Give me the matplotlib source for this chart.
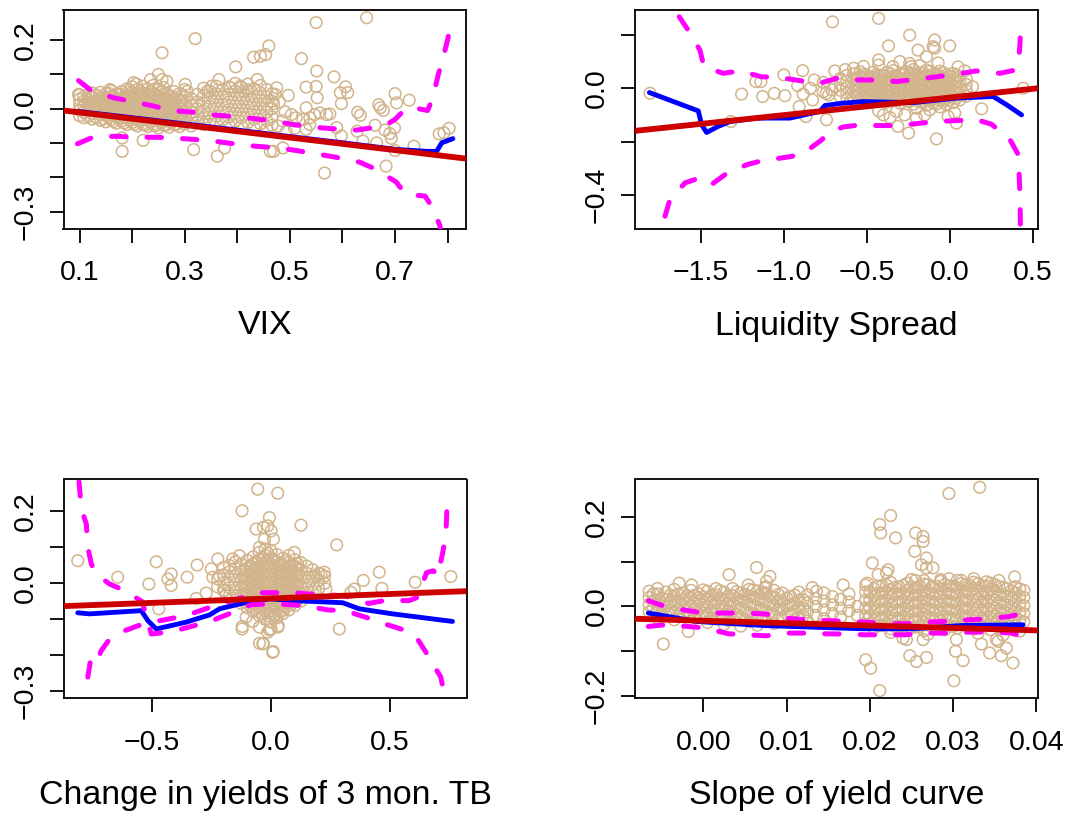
import matplotlib
matplotlib.use("Agg")
import matplotlib.pyplot as plt
import numpy as np

plt.rcParams['font.family'] = ['Liberation Sans', 'DejaVu Sans']
plt.rcParams['axes.unicode_minus'] = True

# ---------------- Panel 1: VIX ----------------
vix_out = [(0.320,0.204),(0.257,0.163),(0.397,0.122),(0.431,0.150),(0.444,0.153),(0.454,0.158),(0.460,0.183),
    (0.181,-0.124),(0.221,-0.092),(0.317,-0.119),(0.362,-0.138),(0.376,-0.114),(0.181,-0.085),(0.463,-0.124),
    (0.365,0.085),(0.250,0.100),(0.257,0.085),(0.266,0.080),(0.158,0.056),(0.098,0.042),(0.203,0.076),(0.208,0.072),
    (0.235,0.085),(0.301,0.071),(0.305,0.051),(0.343,0.051),(0.352,0.066),(0.387,0.061),(0.406,0.066),(0.419,0.056),
    (0.438,0.085),(0.522,0.146),(0.551,0.110),(0.584,0.093),(0.531,0.063),(0.550,0.065),(0.552,0.032),(0.596,0.047),
    (0.606,0.064),(0.610,0.047),(0.598,0.015),(0.497,0.039),(0.475,0.061),(0.472,0.042),(0.469,0.015),(0.531,0.003),
    (0.491,-0.009),(0.503,-0.017),(0.512,-0.026),(0.525,-0.031),(0.538,-0.026),(0.547,-0.017),(0.557,-0.012),
    (0.570,-0.017),(0.576,-0.015),(0.538,-0.046),(0.531,-0.060),(0.509,-0.057),(0.493,-0.067),(0.589,-0.055),
    (0.598,-0.079),(0.629,-0.010),(0.634,-0.019),(0.628,-0.065),(0.639,-0.094),(0.665,-0.099),(0.662,-0.048),
    (0.681,-0.062),(0.690,-0.072),(0.693,-0.086),(0.699,-0.056),(0.669,0.012),(0.678,-0.005),(0.672,0.003),
    (0.700,0.044),(0.703,0.017),(0.727,0.025),(0.683,-0.167),(0.566,-0.187),(0.469,-0.124),(0.487,-0.114),
    (0.736,-0.109),(0.700,-0.122),(0.784,-0.073),(0.793,-0.070),(0.803,-0.057),(0.550,0.251),(0.646,0.265),
    (0.480,0.020),(0.486,-0.035),(0.478,-0.050)]
vix_blob_x = [0.100,0.108,0.116,0.124,0.132,0.140,0.150,0.160,0.170,0.180,0.190,0.200,0.210,0.220,0.230,0.240,
    0.250,0.260,0.270,0.280,0.290,0.300,0.312,0.324,0.336,0.348,0.360,0.372,0.384,0.396,0.408,0.420,0.432,0.444,
    0.456,0.466]
vix_blob_y = [[-0.020,-0.004,0.012,0.028,0.040],[-0.026,-0.010,0.006,0.022,0.036],[-0.022,-0.006,0.010,0.026,0.042],
    [-0.030,-0.014,0.002,0.018,0.034,0.046],[-0.026,-0.008,0.008,0.024,0.040],[-0.034,-0.016,0.000,0.016,0.032,0.048],
    [-0.038,-0.020,-0.004,0.012,0.028,0.044],[-0.032,-0.014,0.004,0.020,0.036,0.052],[-0.042,-0.024,-0.006,0.010,0.026,0.042],
    [-0.036,-0.018,0.000,0.016,0.032,0.050],[-0.046,-0.028,-0.010,0.008,0.024,0.040,0.058],
    [-0.040,-0.022,-0.004,0.014,0.030,0.048,0.064],[-0.050,-0.032,-0.014,0.004,0.020,0.038,0.056],
    [-0.044,-0.026,-0.008,0.010,0.028,0.046,0.066],[-0.052,-0.034,-0.016,0.002,0.020,0.038,0.058],
    [-0.046,-0.028,-0.010,0.008,0.026,0.044,0.068],[-0.056,-0.036,-0.018,0.000,0.018,0.036,0.056],
    [-0.048,-0.030,-0.012,0.006,0.024,0.042,0.062],[-0.054,-0.036,-0.016,0.002,0.020,0.040],
    [-0.046,-0.028,-0.008,0.010,0.030,0.050],[-0.052,-0.032,-0.014,0.004,0.024,0.044],
    [-0.044,-0.024,-0.006,0.014,0.034,0.056],[-0.050,-0.030,-0.010,0.010,0.030],[-0.040,-0.020,0.000,0.020,0.042],
    [-0.046,-0.026,-0.006,0.016,0.038,0.060],[-0.036,-0.014,0.008,0.030,0.052],[-0.044,-0.022,0.000,0.022,0.044,0.066],
    [-0.032,-0.010,0.012,0.034,0.056],[-0.048,-0.024,-0.002,0.020,0.042,0.064],[-0.036,-0.014,0.008,0.030,0.052,0.074],
    [-0.050,-0.026,-0.004,0.018,0.040,0.062],[-0.040,-0.016,0.006,0.028,0.050,0.072],[-0.054,-0.030,-0.008,0.014,0.036,0.058],
    [-0.044,-0.020,0.002,0.024,0.046,0.068],[-0.060,-0.034,-0.010,0.012,0.034,0.056],[-0.048,-0.024,0.000,0.022,0.044]]
vix_fill_x = [0.145,0.155,0.165,0.175,0.185,0.195,0.205,0.215,0.225,0.235,0.245,0.255,0.265,0.275,0.285,0.295]
vix_fill_y = [[-0.029,-0.011,0.007,0.025],[-0.025,-0.007,0.011,0.029,0.045],[-0.037,-0.019,-0.001,0.017,0.035],
    [-0.029,-0.011,0.007,0.025,0.043],[-0.041,-0.023,-0.005,0.013,0.031],[-0.033,-0.015,0.003,0.021,0.039,0.055],
    [-0.045,-0.027,-0.009,0.009,0.027,0.045],[-0.037,-0.019,-0.001,0.017,0.035,0.051],
    [-0.047,-0.029,-0.011,0.007,0.025,0.043],[-0.039,-0.021,-0.003,0.015,0.033,0.051],
    [-0.049,-0.031,-0.013,0.005,0.023,0.041,0.059],[-0.041,-0.023,-0.005,0.013,0.031,0.049],
    [-0.047,-0.029,-0.011,0.007,0.025,0.045],[-0.039,-0.021,-0.003,0.015,0.035],[-0.045,-0.027,-0.009,0.009,0.029],
    [-0.037,-0.017,0.001,0.021,0.041]]
vix_fit_x = [0.099,0.2,0.3,0.4,0.5,0.6,0.7,0.760,0.779,0.789,0.810]
vix_fit_y = [-0.008,-0.026,-0.044,-0.062,-0.081,-0.099,-0.118,-0.124,-0.124,-0.099,-0.087]
vix_up_x = [0.098,0.124,0.165,0.197,0.241,0.273,0.317,0.349,0.393,0.428,0.471,0.506,0.548,0.579,0.627,0.658,0.685,
    0.700,0.722,0.745,0.762,0.772,0.782,0.790,0.801,0.805]
vix_up_y = [0.082,0.051,0.032,0.022,0.008,-0.005,-0.010,-0.017,-0.023,-0.028,-0.036,-0.046,-0.054,-0.058,-0.062,-0.055,
    -0.045,-0.031,0.003,0.000,-0.005,0.032,0.098,0.139,0.207,0.255]
vix_lo_x = [0.096,0.127,0.171,0.203,0.247,0.279,0.324,0.355,0.403,0.435,0.478,0.510,0.557,0.587,0.632,0.662,0.702,
    0.720,0.740,0.757,0.772,0.785,0.795]
vix_lo_y = [-0.102,-0.082,-0.080,-0.083,-0.083,-0.085,-0.090,-0.094,-0.104,-0.109,-0.114,-0.121,-0.133,-0.141,-0.155,
    -0.175,-0.213,-0.248,-0.252,-0.254,-0.289,-0.339,-0.40]
vix_ols = [0.0077, -0.183]

# ---------------- Panel 2: Liquidity spread ----------------
liq_out = [(-1.807,-0.019),(-1.319,-0.125),(-1.255,-0.022),(-1.169,0.025),(-1.139,0.025),(-1.128,-0.031),(-1.058,-0.019),
    (-0.994,-0.028),(-1.0,0.050),(-0.887,0.066),(-0.917,0.010),(-0.884,-0.022),(-0.908,-0.069),(-0.867,-0.106),
    (-0.827,-0.044),(-0.817,0.031),(-0.743,-0.118),(-0.707,0.249),(-0.693,0.065),(-0.84,0.0),(-0.763,-0.013),
    (-0.745,-0.019),(-0.73,-0.025),(-0.71,-0.006),(-0.69,0.006),(-0.763,0.022),(-0.429,0.262),(-0.242,0.199),
    (-0.369,0.159),(-0.091,0.181),(-0.091,0.150),(-0.10,0.156),(0.0,0.159),(-0.191,0.143),(-0.141,0.118),
    (-0.429,0.106),(-0.429,0.087),(-0.343,0.081),(-0.242,0.093),(-0.232,0.081),(-0.248,-0.168),(-0.080,-0.190),
    (0.192,-0.077),(0.137,0.006),(0.443,0.0),(0.040,-0.131),(-0.313,-0.143),(-0.201,-0.112),(-0.322,-0.087),
    (-0.272,-0.100),(-0.201,-0.075),(-0.151,-0.100),(-0.121,-0.081),(-0.010,-0.106),(0.030,-0.093),(-0.429,-0.085),
    (-0.40,-0.10),(-0.36,-0.11),(-0.63,0.07),(-0.58,0.075),(-0.52,0.082),(-0.30,0.10),(-0.18,0.085),(-0.07,0.095),
    (0.05,0.08),(0.09,0.065)]
liq_blob_x = [-0.66,-0.62,-0.58,-0.54,-0.50,-0.46,-0.42,-0.38,-0.34,-0.30,-0.26,-0.22,-0.18,-0.14,-0.10,-0.06,-0.02,
    0.02,0.06,0.10]
liq_blob_y = [[-0.030,-0.008,0.014,0.036],[-0.040,-0.018,0.004,0.026,0.048],[-0.034,-0.012,0.010,0.032,0.054],
    [-0.044,-0.022,0.000,0.022,0.044,0.062],[-0.038,-0.016,0.006,0.028,0.050],[-0.048,-0.026,-0.004,0.018,0.040,0.060],
    [-0.040,-0.018,0.004,0.026,0.048],[-0.052,-0.030,-0.008,0.014,0.036,0.058],[-0.044,-0.022,0.000,0.022,0.044,0.066],
    [-0.056,-0.034,-0.012,0.010,0.032,0.054],[-0.048,-0.026,-0.004,0.018,0.040,0.062],
    [-0.060,-0.038,-0.016,0.006,0.028,0.050,0.070],[-0.052,-0.030,-0.008,0.014,0.036,0.058],
    [-0.064,-0.042,-0.020,0.002,0.024,0.046,0.068],[-0.056,-0.034,-0.012,0.010,0.032,0.054],
    [-0.070,-0.046,-0.024,-0.002,0.020,0.042,0.064],[-0.060,-0.038,-0.016,0.006,0.028,0.050],
    [-0.054,-0.032,-0.010,0.012,0.034,0.056],[-0.044,-0.022,0.000,0.022,0.044],[-0.030,-0.008,0.014,0.036]]
liq_fill_x = [-0.56,-0.52,-0.48,-0.44,-0.40,-0.36,-0.32,-0.28,-0.24,-0.20,-0.16,-0.12,-0.08,-0.04,0.00,0.04]
liq_fill_y = [[-0.027,-0.005,0.017,0.039],[-0.033,-0.011,0.011,0.033,0.053],[-0.027,-0.005,0.017,0.039],
    [-0.035,-0.013,0.009,0.031,0.051],[-0.041,-0.019,0.003,0.025,0.047],[-0.033,-0.011,0.011,0.033,0.055],
    [-0.045,-0.023,-0.001,0.021,0.043],[-0.037,-0.015,0.007,0.029,0.051],[-0.049,-0.027,-0.005,0.017,0.039,0.059],
    [-0.041,-0.019,0.003,0.025,0.047],[-0.053,-0.031,-0.009,0.013,0.035,0.057],[-0.045,-0.023,-0.001,0.021,0.043,0.063],
    [-0.059,-0.035,-0.013,0.009,0.031,0.053],[-0.049,-0.027,-0.005,0.017,0.039,0.059],[-0.043,-0.021,0.001,0.023,0.045],
    [-0.037,-0.015,0.007,0.029,0.049]]
liq_fit_x = [-1.811,-1.516,-1.496,-1.466,-1.396,-1.325,-1.164,-0.964,-0.783,-0.753,-0.66,-0.524,-0.222,0.04,0.262,0.343,0.433]
liq_fit_y = [-0.016,-0.085,-0.137,-0.166,-0.143,-0.125,-0.112,-0.112,-0.087,-0.065,-0.057,-0.050,-0.054,-0.037,-0.031,-0.062,-0.100]
liq_up_x = [-1.631,-1.577,-1.506,-1.482,-1.366,-1.265,-1.134,-1.024,-0.887,-0.783,-0.665,-0.564,-0.423,-0.322,-0.181,
    -0.080,0.071,0.161,0.302,0.393,0.415,0.423,0.427]
liq_up_y = [0.268,0.218,0.143,0.081,0.056,0.065,0.043,0.040,0.027,0.019,0.040,0.031,0.031,0.025,0.035,0.043,0.056,0.065,
    0.056,0.068,0.10,0.162,0.224]
liq_lo_x = [-1.717,-1.687,-1.596,-1.506,-1.436,-1.355,-1.225,-1.134,-0.988,-0.893,-0.779,-0.713,-0.64,-0.574,-0.473,
    -0.333,-0.232,-0.085,0.016,0.161,0.252,0.363,0.413,0.419,0.423,0.427]
liq_lo_y = [-0.480,-0.418,-0.355,-0.336,-0.361,-0.324,-0.287,-0.272,-0.259,-0.249,-0.197,-0.160,-0.145,-0.140,-0.140,
    -0.140,-0.135,-0.125,-0.122,-0.118,-0.135,-0.193,-0.249,-0.336,-0.399,-0.55]
liq_ols = [-0.035, 0.0658]

# ---------------- Panel 3: change in 3-month T-bill yields ----------------
tb_out = [(-0.813,0.063),(-0.645,0.017),(-0.483,0.060),(-0.514,-0.002),(-0.434,0.012),(-0.42,0.026),(-0.42,-0.006),
    (-0.353,0.017),(-0.311,0.051),(-0.273,-0.027),(-0.315,-0.042),(-0.472,-0.071),(-0.122,-0.127),(-0.077,-0.106),
    (-0.056,0.262),(-0.122,0.202),(-0.063,0.151),(-0.032,0.156),(-0.028,0.123),(-0.049,0.100),(-0.032,-0.168),
    (0.028,0.251),(0.126,0.162),(-0.007,0.183),(-0.014,0.160),(0.0,0.146),(0.010,0.123),(0.276,0.107),(0.455,0.031),
    (0.606,0.003),(0.756,0.019),(0.388,0.008),(0.466,-0.014),(0.35,-0.016),(0.336,-0.025),(0.287,-0.127),(0.224,0.031),
    (0.210,0.026),(0.189,0.021),(0.231,-0.016),(0.007,-0.192),(-0.035,-0.168),(0.028,-0.122),(0.0,-0.127),
    (-0.014,-0.136),(0.049,-0.076),(0.098,0.086),(0.112,0.054),(0.077,0.049),(-0.252,0.040),(-0.224,0.068),
    (-0.245,0.017),(-0.217,0.021),(-0.196,-0.020),(-0.161,0.068),(-0.133,0.077),(-0.189,-0.034),(-0.105,-0.094),
    (-0.049,-0.122),(-0.121,-0.120),(-0.049,-0.167),(0.009,-0.190),(-0.006,-0.130),(0.030,-0.118)]
tb_blob_x = [-0.225,-0.200,-0.175,-0.150,-0.125,-0.100,-0.075,-0.050,-0.025,0.000,0.025,0.050,0.075,0.100,0.125,
    0.150,0.175,0.200,0.225]
tb_blob_y = [[-0.010,0.012],[-0.020,0.002,0.024,0.044],[-0.034,-0.012,0.010,0.032,0.050],
    [-0.046,-0.024,-0.002,0.020,0.042,0.060],[-0.056,-0.034,-0.012,0.010,0.032,0.054],
    [-0.068,-0.046,-0.024,-0.002,0.020,0.042,0.064],[-0.078,-0.056,-0.034,-0.012,0.010,0.032,0.054,0.074],
    [-0.090,-0.066,-0.044,-0.022,0.000,0.022,0.044,0.066,0.086],
    [-0.100,-0.076,-0.054,-0.032,-0.010,0.012,0.034,0.056,0.078,0.096],
    [-0.108,-0.086,-0.062,-0.040,-0.018,0.004,0.026,0.048,0.070,0.090],
    [-0.096,-0.072,-0.050,-0.028,-0.006,0.016,0.038,0.060,0.080],
    [-0.084,-0.062,-0.040,-0.018,0.004,0.026,0.048,0.070],[-0.074,-0.052,-0.030,-0.008,0.014,0.036,0.058,0.078],
    [-0.062,-0.040,-0.018,0.004,0.026,0.048,0.066],[-0.050,-0.028,-0.006,0.016,0.038,0.058],
    [-0.038,-0.016,0.006,0.028,0.048],[-0.026,-0.004,0.018,0.038],[-0.014,0.008,0.028],[0.000,0.020]]
tb_fill_x = [-0.1125,-0.0875,-0.0625,-0.0375,-0.0125,0.0125,0.0375,0.0625,0.0875,0.1125]
tb_fill_y = [[-0.051,-0.029,-0.007,0.015,0.037],[-0.061,-0.039,-0.017,0.005,0.027,0.049],
    [-0.071,-0.049,-0.027,-0.005,0.017,0.039,0.061],[-0.083,-0.061,-0.039,-0.017,0.005,0.027,0.049,0.071],
    [-0.091,-0.069,-0.047,-0.025,-0.003,0.019,0.041,0.063,0.083],[-0.089,-0.067,-0.045,-0.023,-0.001,0.021,0.043,0.065],
    [-0.079,-0.057,-0.035,-0.013,0.009,0.031,0.053],[-0.067,-0.045,-0.023,-0.001,0.021,0.043,0.063],
    [-0.057,-0.035,-0.013,0.009,0.031,0.053],[-0.045,-0.023,-0.001,0.021,0.041]]
tb_fit_x = [-0.813,-0.763,-0.546,-0.518,-0.483,-0.357,-0.259,-0.217,-0.105,-0.007,0.091,0.301,0.371,0.511,0.763]
tb_fit_y = [-0.082,-0.085,-0.076,-0.104,-0.127,-0.108,-0.088,-0.071,-0.053,-0.043,-0.048,-0.054,-0.071,-0.085,-0.106]
tb_a_x = [-0.808,-0.798,-0.777,-0.771,-0.756,-0.735,-0.679,-0.616,-0.542,-0.504,-0.42,-0.364,-0.257,-0.207,-0.085,
    -0.006,0.095,0.145,0.238,0.31,0.41,0.468,0.561,0.611,0.665,0.693,0.714,0.728,0.735]
tb_a_y = [0.283,0.207,0.165,0.100,0.054,0.025,-0.002,-0.020,-0.051,-0.141,-0.135,-0.125,-0.106,-0.093,-0.060,-0.057,
    -0.060,-0.063,-0.074,-0.076,-0.097,-0.111,-0.130,-0.150,-0.206,-0.238,-0.261,-0.307,-0.33]
tb_b_x = [-0.771,-0.761,-0.742,-0.714,-0.679,-0.624,-0.56,-0.50,-0.413,-0.350,-0.245,-0.189,-0.105,-0.035,0.049,0.084,
    0.140,0.245,0.31,0.41,0.476,0.581,0.616,0.654,0.683,0.700,0.721,0.735,0.742]
tb_b_y = [-0.261,-0.221,-0.233,-0.187,-0.155,-0.134,-0.118,-0.108,-0.097,-0.088,-0.064,-0.053,-0.036,-0.026,-0.026,
    -0.025,-0.029,-0.032,-0.035,-0.056,-0.048,-0.048,-0.039,0.030,0.035,0.020,0.082,0.133,0.245]
tb_ols = [-0.042, 0.0246]

# ---------------- Panel 4: slope of yield curve ----------------
slp_out = [(0.0295,0.252),(0.0332,0.266),(0.0225,0.203),(0.0212,0.183),(0.0213,0.164),(0.0231,0.153),(0.0255,0.164),
    (0.0264,0.156),(0.0264,0.145),(0.0254,0.123),(0.0268,0.108),(0.0262,0.093),(0.0268,0.086),(0.0276,0.086),
    (0.0203,0.097),(0.021,0.071),(0.022,0.075),(0.0222,0.082),(0.0168,0.048),(0.0197,0.052),(0.0374,0.066),
    (0.0195,-0.119),(0.0201,-0.138),(0.0212,-0.188),(0.0248,-0.110),(0.0256,-0.123),(0.0268,-0.114),(0.0301,-0.166),
    (0.0303,-0.100),(0.0312,-0.121),(0.0334,-0.084),(0.0344,-0.104),(0.0358,-0.110),(0.0364,-0.093),(0.0372,-0.126),
    (0.0352,-0.074),(0.0354,-0.078),(0.0304,-0.074),(0.024,-0.071),(0.0244,-0.074),(0.0264,-0.074),(0.0064,0.087),
    (0.0031,0.071),(-0.0048,-0.084),(-0.0018,-0.056),(0.008,0.067),(0.0076,0.056),(0.0074,0.041),(0.0131,0.042),
    (0.0136,0.034),(-0.0029,0.052),(-0.0014,0.048),(0.0054,0.048),(0.0285,0.060),(0.0295,0.062),(0.031,0.058),
    (0.0325,0.062),(0.034,0.055),(0.0355,0.058),(0.0265,0.058),(0.0225,-0.058),(0.027,-0.062),(0.029,-0.052),
    (0.033,-0.060),(0.036,-0.064),(0.038,-0.055)]
slp_blob_x = [-0.0065,-0.0055,-0.0045,-0.0035,-0.0025,-0.0015,-0.0005,0.0005,0.0015,0.0025,0.0035,0.0045,0.0055,
    0.0065,0.0075,0.0085,0.0095,0.0105,0.0115,0.0125,0.0135,0.0145,0.0155,0.0165,0.0175,0.0185,
    0.0195,0.0205,0.0215,0.0225,0.0235,0.0245,0.0255,0.0265,0.0275,0.0285,0.0295,0.0305,0.0315,0.0325,0.0335,
    0.0345,0.0355,0.0365,0.0375,0.0385]
slp_blob_y = [[-0.012,0.004,0.020,0.034],[-0.026,-0.008,0.010,0.028,0.040],[-0.018,0.000,0.016,0.032],
    [-0.030,-0.012,0.006,0.024,0.038],[-0.020,-0.002,0.014,0.030],[-0.034,-0.016,0.002,0.020,0.036],
    [-0.024,-0.006,0.012,0.028],[-0.036,-0.018,0.000,0.018,0.034],[-0.028,-0.010,0.008,0.026,0.040],
    [-0.040,-0.020,-0.002,0.016,0.032],[-0.030,-0.012,0.006,0.024,0.040],[-0.044,-0.024,-0.004,0.014,0.030],
    [-0.034,-0.014,0.004,0.022,0.038],[-0.042,-0.022,-0.002,0.016,0.034],[-0.030,-0.010,0.010,0.028,0.044],
    [-0.038,-0.018,0.002,0.020,0.036],[-0.026,-0.006,0.012,0.030],[-0.036,-0.016,0.004,0.022],
    [-0.024,-0.004,0.014,0.032],[-0.032,-0.012,0.008,0.026],[-0.020,0.000,0.018],[-0.028,-0.008,0.012,0.030],
    [-0.016,0.004,0.022],[-0.024,-0.004,0.016],[-0.010,0.010,0.028],[-0.020,0.000],
    [-0.040,-0.022,-0.004,0.014,0.032,0.048],[-0.048,-0.030,-0.012,0.006,0.024,0.040],
    [-0.042,-0.024,-0.006,0.012,0.030,0.046],[-0.050,-0.032,-0.014,0.004,0.022,0.038,0.054],
    [-0.044,-0.026,-0.008,0.010,0.028,0.044],[-0.052,-0.034,-0.016,0.002,0.020,0.036,0.052],
    [-0.046,-0.028,-0.010,0.008,0.026,0.042,0.058],[-0.054,-0.036,-0.018,0.000,0.018,0.034,0.050],
    [-0.044,-0.026,-0.008,0.010,0.028,0.044],[-0.050,-0.032,-0.014,0.004,0.022,0.040,0.056],
    [-0.042,-0.024,-0.006,0.012,0.030,0.046],[-0.048,-0.030,-0.012,0.006,0.024,0.042,0.058],
    [-0.040,-0.022,-0.004,0.014,0.032,0.048],[-0.050,-0.032,-0.014,0.004,0.022,0.040,0.054],
    [-0.044,-0.026,-0.008,0.010,0.028,0.046],[-0.052,-0.034,-0.016,0.002,0.020,0.038,0.052],
    [-0.046,-0.028,-0.010,0.008,0.026,0.044],[-0.050,-0.032,-0.014,0.004,0.022,0.040],
    [-0.042,-0.024,-0.006,0.012,0.030,0.044],[-0.034,-0.016,0.002,0.020,0.036]]
slp_fill_x = [-0.0060,-0.0050,-0.0040,-0.0030,-0.0020,-0.0010,0.0000,0.0010,0.0020,0.0030,0.0040,0.0050,0.0060,
    0.0070,0.0080,0.0090,0.0100,0.0110,0.0120,
    0.0200,0.0210,0.0220,0.0230,0.0240,0.0250,0.0260,0.0270,0.0280,0.0290,0.0300,0.0310,0.0320,0.0330,0.0340,
    0.0350,0.0360,0.0370,0.0380]
slp_fill_y = [[-0.004,0.012,0.028],[-0.017,0.001,0.019],[-0.009,0.009,0.025],[-0.021,-0.005,0.011,0.027],
    [-0.011,0.007,0.023],[-0.025,-0.007,0.009,0.025],[-0.015,0.003,0.021,0.037],[-0.027,-0.009,0.009,0.025],
    [-0.017,0.001,0.019,0.035],[-0.031,-0.011,0.007,0.023],[-0.019,-0.001,0.017,0.033],[-0.029,-0.009,0.011,0.027],
    [-0.017,0.003,0.021,0.037],[-0.025,-0.005,0.013,0.029],[-0.015,0.005,0.023],[-0.027,-0.007,0.011,0.027],
    [-0.017,0.001,0.019],[-0.011,0.007,0.025],[-0.021,-0.003,0.015],
    [-0.039,-0.021,-0.003,0.015,0.033],[-0.043,-0.025,-0.007,0.011,0.029,0.045],[-0.041,-0.023,-0.005,0.013,0.031,0.047],
    [-0.045,-0.027,-0.009,0.009,0.027,0.043],[-0.043,-0.025,-0.007,0.011,0.029,0.047],
    [-0.047,-0.029,-0.011,0.007,0.025,0.043,0.060],[-0.045,-0.027,-0.009,0.009,0.027,0.045],
    [-0.041,-0.023,-0.005,0.013,0.031,0.049],[-0.045,-0.027,-0.009,0.009,0.027,0.045],
    [-0.041,-0.023,-0.005,0.013,0.031,0.049],[-0.045,-0.027,-0.009,0.009,0.027,0.045],
    [-0.039,-0.021,-0.003,0.015,0.033,0.051],[-0.043,-0.025,-0.007,0.011,0.029,0.047],
    [-0.037,-0.019,-0.001,0.017,0.035,0.051],[-0.043,-0.025,-0.007,0.011,0.029,0.045],
    [-0.039,-0.021,-0.003,0.015,0.033,0.049],[-0.045,-0.027,-0.009,0.009,0.027,0.043],
    [-0.037,-0.019,-0.001,0.017,0.035],[-0.031,-0.013,0.005,0.023,0.039]]
slp_fit_x = [-0.0066,-0.0008,0.0072,0.0164,0.0192,0.0252,0.0312,0.0384]
slp_fit_y = [-0.0148,-0.0335,-0.0425,-0.0483,-0.0498,-0.0498,-0.0425,-0.0410]
slp_band_x = [-0.0066,-0.0046,-0.0018,0.0002,0.003,0.005,0.0076,0.0096,0.0124,0.0144,0.0174,0.0194,0.0222,0.0242,
    0.027,0.029,0.032,0.034,0.0368,0.0385]
slp_up_y = [0.0127,0.0,-0.0096,-0.0148,-0.0148,-0.0148,-0.017,-0.026,-0.0297,-0.0313,-0.0335,-0.0349,-0.0387,-0.0387,
    -0.0349,-0.0335,-0.0297,-0.0282,-0.0223,-0.0148]
slp_lo_y = [-0.0447,-0.0409,-0.0447,-0.0483,-0.061,-0.0633,-0.0655,-0.0595,-0.0595,-0.061,-0.0618,-0.0633,-0.0633,
    -0.0633,-0.0595,-0.0595,-0.0573,-0.0573,-0.0588,-0.0670]
slp_ols = [-0.0319, -0.539]

# ---------------- axis ticks / labels ----------------
vix_xticks = [0.1,0.2,0.3,0.4,0.5,0.6,0.7,0.8]
vix_xlabels = ['0.1','','0.3','','0.5','','0.7','']
vix_yticks = [0.2,0.1,0.0,-0.1,-0.2,-0.3]
vix_ylabels = ['0.2','','0.0','','','\u22120.3']
liq_xticks = [-1.5,-1.0,-0.5,0.0,0.5]
liq_xlabels = ['\u22121.5','\u22121.0','\u22120.5','0.0','0.5']
liq_yticks = [0.2,0.0,-0.2,-0.4]
liq_ylabels = ['','0.0','','\u22120.4']
tb_xticks = [-0.5,0.0,0.5]
tb_xlabels = ['\u22120.5','0.0','0.5']
tb_yticks = [0.2,0.1,0.0,-0.1,-0.2,-0.3]
tb_ylabels = ['0.2','','0.0','','','\u22120.3']
slp_xticks = [0.0,0.01,0.02,0.03,0.04]
slp_xlabels = ['0.00','0.01','0.02','0.03','0.04']
slp_yticks = [0.2,0.1,0.0,-0.1,-0.2]
slp_ylabels = ['0.2','','0.0','','\u22120.2']
titles = ['VIX','Liquidity Spread','Change in yields of 3 mon. TB','Slope of yield curve']

TAN = '#D2B48C'
BLUE = '#0000FF'
MAG = '#FF00FF'
RED = '#CD0000'

def cols_to_points(cx, cy):
    px, py = [], []
    for x, ys in zip(cx, cy):
        for y in ys:
            px.append(x); py.append(y)
    return px, py

W, H = 1069, 814
fig = plt.figure(figsize=(W/100, H/100), dpi=100)

def make_ax(l, t, r, b):
    return fig.add_axes([l/W, 1-b/H, (r-l)/W, (b-t)/H])

panels = [
    dict(box=(63.5,10,466,229), xlim=(0.0695,0.835), ylim=(-0.350,0.2875), out=vix_out,
         blobs=[(vix_blob_x,vix_blob_y),(vix_fill_x,vix_fill_y)],
         fit=(vix_fit_x,vix_fit_y), bands=[(vix_up_x,vix_up_y),(vix_lo_x,vix_lo_y)], ols=vix_ols,
         xt=(vix_xticks,vix_xlabels), yt=(vix_yticks,vix_ylabels), title=titles[0]),
    dict(box=(635,10,1038,229), xlim=(-1.8976,0.532), ylim=(-0.528,0.2935), out=liq_out,
         blobs=[(liq_blob_x,liq_blob_y),(liq_fill_x,liq_fill_y)],
         fit=(liq_fit_x,liq_fit_y), bands=[(liq_up_x,liq_up_y),(liq_lo_x,liq_lo_y)], ols=liq_ols,
         xt=(liq_xticks,liq_xlabels), yt=(liq_yticks,liq_ylabels), title=titles[1]),
    dict(box=(64,479.5,466.5,698.3), xlim=(-0.871,0.822), ylim=(-0.320,0.289), out=tb_out,
         blobs=[(tb_blob_x,tb_blob_y),(tb_fill_x,tb_fill_y)],
         fit=(tb_fit_x,tb_fit_y), bands=[(tb_a_x,tb_a_y),(tb_b_x,tb_b_y)], ols=tb_ols,
         xt=(tb_xticks,tb_xlabels), yt=(tb_yticks,tb_ylabels), title=titles[2]),
    dict(box=(635,479.5,1038,698.3), xlim=(-0.0082,0.0402), ylim=(-0.2051,0.2834), out=slp_out,
         blobs=[(slp_blob_x,slp_blob_y),(slp_fill_x,slp_fill_y)],
         fit=(slp_fit_x,slp_fit_y), bands=[(slp_band_x,slp_up_y),(slp_band_x,slp_lo_y)], ols=slp_ols,
         xt=(slp_xticks,slp_xlabels), yt=(slp_yticks,slp_ylabels), title=titles[3]),
]

for p in panels:
    l, t, r, b = p['box']
    ax = make_ax(l, t, r, b)
    px, py = [], []
    for cx, cy in p['blobs']:
        a, c = cols_to_points(cx, cy)
        px += a; py += c
    px += [q[0] for q in p['out']]
    py += [q[1] for q in p['out']]
    ax.scatter(px, py, s=70, facecolors='none', edgecolors=TAN, linewidths=1.1, zorder=1)
    ax.plot(p['fit'][0], p['fit'][1], color=BLUE, lw=3.5, solid_capstyle='round', solid_joinstyle='round', zorder=2)
    for bxs, bys in p['bands']:
        ax.plot(bxs, bys, color=MAG, lw=3.6, dashes=(2.9, 4.2), dash_capstyle='round', dash_joinstyle='round', zorder=3)
    xx = np.array(p['xlim'])
    ax.plot(xx, p['ols'][0] + p['ols'][1]*xx, color=RED, lw=4.2, solid_capstyle='butt', zorder=4)
    ax.set_xlim(*p['xlim'])
    ax.set_ylim(*p['ylim'])
    ax.set_xticks(p['xt'][0])
    ax.set_xticklabels(p['xt'][1])
    ax.set_yticks(p['yt'][0])
    ax.set_yticklabels(p['yt'][1], rotation=90, va='center')
    ax.tick_params(axis='both', which='major', length=10, width=1.3, labelsize=20.5, color='black')
    ax.tick_params(axis='x', pad=12.5)
    ax.tick_params(axis='y', pad=8)
    for s in ax.spines.values():
        s.set_linewidth(1.3)
    ax.set_xlabel(p['title'], fontsize=24.4)
    ax.xaxis.label.set_va('baseline')
    ax.xaxis.set_label_coords(0.5, -(105.5/(b-t)))

fig.savefig('out.png', dpi=100)
